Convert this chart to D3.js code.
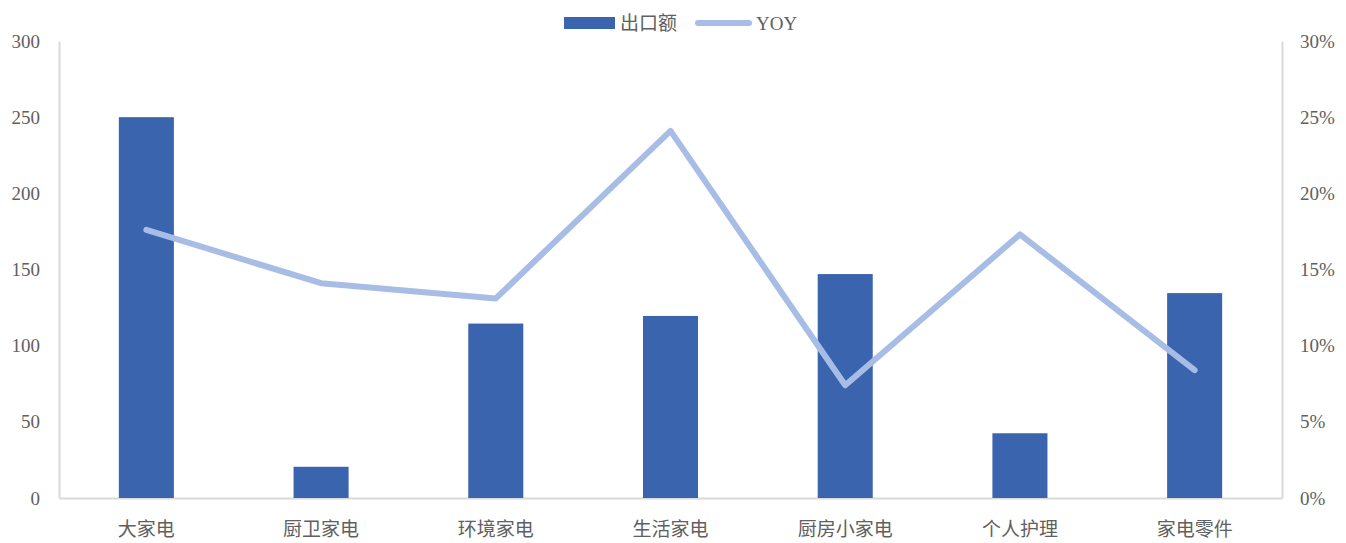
<!DOCTYPE html>
<html>
<head>
<meta charset="utf-8">
<script src="https://cdn.jsdelivr.net/npm/d3@7"></script>
<style>
  body { margin: 0; background: #fff; }
  text { font-family: "Liberation Serif", "Noto Sans CJK SC", serif; fill: #606060; }
</style>
</head>
<body>
<div id="viz_container"></div>
<script>
// data
const categories = ["大家电", "厨卫家电", "环境家电", "生活家电", "厨房小家电", "个人护理", "家电零件"];
const exportValues = [250, 20.5, 114.5, 119.5, 147, 42.5, 134.5];
const yoyValues = [0.176, 0.141, 0.131, 0.241, 0.074, 0.173, 0.084];
const leftTicks = [0, 50, 100, 150, 200, 250, 300];
const rightTicks = [0, 0.05, 0.10, 0.15, 0.20, 0.25, 0.30];

// dimensions
const W = 1346, H = 543;
const margin = { top: 41, right: 64, bottom: 45, left: 59 };
const width = W - margin.left - margin.right;
const height = H - margin.top - margin.bottom;

const svg = d3.select("#viz_container")
    .append("svg")
    .attr("width", W)
    .attr("height", H);

const g = svg.append("g")
    .attr("transform", `translate(${margin.left}, ${margin.top})`);

// scales
const x = d3.scaleBand()
    .domain(categories)
    .range([0, width])
    .paddingInner(0.685)
    .paddingOuter(0.3425);

const yLeft = d3.scaleLinear().domain([0, 300]).range([height, 0]);
const yRight = d3.scaleLinear().domain([0, 0.30]).range([height, 0]);

// axes
g.append("g")
    .call(d3.axisLeft(yLeft).tickValues(leftTicks).tickSize(0).tickPadding(19))
    .call(a => a.select(".domain").attr("stroke", "#d9d9d9").attr("stroke-width", 2))
    .call(a => a.selectAll("text").attr("font-size", 19).style("font-family", "Liberation Serif"));

g.append("g")
    .attr("transform", `translate(${width}, 0)`)
    .call(d3.axisRight(yRight).tickValues(rightTicks).tickFormat(d3.format(".0%")).tickSize(0).tickPadding(18))
    .call(a => a.select(".domain").attr("stroke", "#d9d9d9").attr("stroke-width", 2))
    .call(a => a.selectAll("text").attr("font-size", 19).style("font-family", "Liberation Serif"));

g.append("g")
    .attr("transform", `translate(0, ${height})`)
    .call(d3.axisBottom(x).tickSize(0).tickPadding(25))
    .call(a => a.select(".domain").attr("stroke", "#d9d9d9").attr("stroke-width", 2))
    .call(a => a.selectAll("text").attr("font-size", 19).style("font-family", "Noto Sans CJK SC"));

// bars
g.append("g")
    .selectAll("rect")
    .data(exportValues)
    .join("rect")
    .attr("x", (d, i) => x(categories[i]))
    .attr("y", d => yLeft(d))
    .attr("width", x.bandwidth())
    .attr("height", d => height - yLeft(d))
    .attr("fill", "#3a64ae");

// YOY line
const line = d3.line()
    .x((d, i) => x(categories[i]) + x.bandwidth() / 2)
    .y(d => yRight(d));

g.append("path")
    .datum(yoyValues)
    .attr("d", line)
    .attr("fill", "none")
    .attr("stroke", "#a7bde6")
    .attr("stroke-width", 6)
    .attr("stroke-linecap", "round")
    .attr("stroke-linejoin", "round");

// legend
const legend = svg.append("g");
legend.append("rect")
    .attr("x", 564).attr("y", 17)
    .attr("width", 51).attr("height", 12)
    .attr("fill", "#3a64ae");
legend.append("text")
    .attr("x", 620).attr("y", 30)
    .attr("font-size", 19)
    .style("font-family", "Noto Sans CJK SC")
    .text("出口额");
legend.append("line")
    .attr("x1", 698).attr("x2", 749)
    .attr("y1", 23).attr("y2", 23)
    .attr("stroke", "#a7bde6")
    .attr("stroke-width", 6)
    .attr("stroke-linecap", "round");
legend.append("text")
    .attr("x", 756).attr("y", 30)
    .attr("font-size", 19)
    .text("YOY");
</script>
</body>
</html>
